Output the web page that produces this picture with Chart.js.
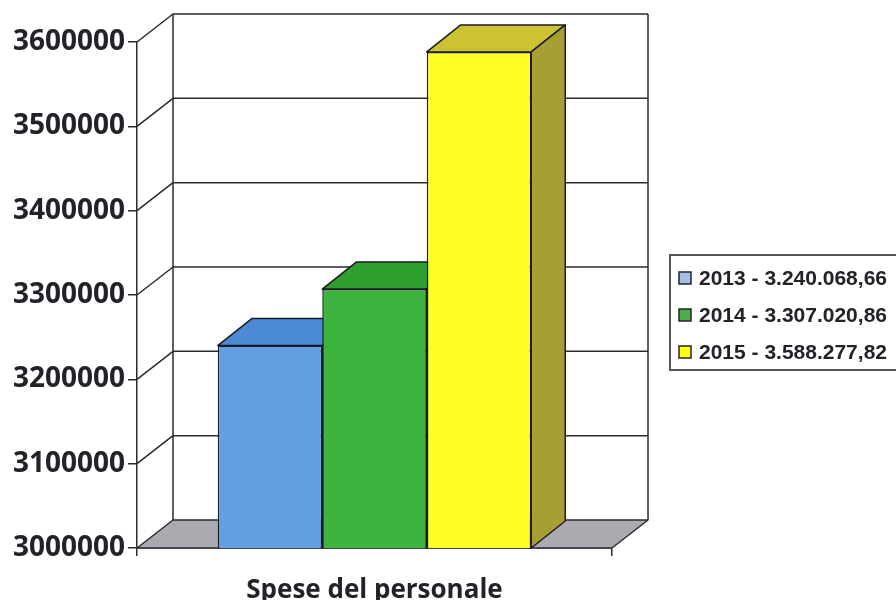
<!DOCTYPE html>
<html>
<head>
<meta charset="utf-8">
<script src="https://cdn.jsdelivr.net/npm/chart.js@4.4.1/dist/chart.umd.min.js"></script>
<style>
  body { margin: 0; background: #ffffff; }
  canvas { display: block; }
</style>
</head>
<body>
<canvas id="spese" width="896" height="600"></canvas>
<script>
// data
let categories = ["Spese del personale"];
let years = ["2013", "2014", "2015"];
let values = [3240068.66, 3307020.86, 3588277.82];
let yMin = 3000000;
let yMax = 3600000;
let yStep = 100000;

// colours
let frontColors = ["#62a0e2", "#3db43d", "#ffff26"];
let topColors = ["#4c8bd4", "#2f9f2f", "#cdc232"];
let sideColors = ["#3a70b0", "#2a862a", "#a89f34"];
let markerColors = ["#a3c0e2", "#4aac4a", "#ffff10"];

let lineColor = "#2b2b30";
let textColor = "#222228";
let wallDepth = { x: 36, y: -28 };
let barDepth = { x: 34, y: -27 };

// 3.240.068,66 style
function itNumber(v) {
    let parts = v.toFixed(2).split(".");
    let intPart = parts[0].replace(/\B(?=(\d{3})+(?!\d))/g, ".");
    return intPart + "," + parts[1];
}

let legendLabels = years.map((y, i) => y + " - " + itNumber(values[i]));

function poly(ctx, pts, fill) {
    ctx.beginPath();
    ctx.moveTo(pts[0][0], pts[0][1]);
    for (let i = 1; i < pts.length; i++) ctx.lineTo(pts[i][0], pts[i][1]);
    ctx.closePath();
    if (fill) {
        ctx.fillStyle = fill;
        ctx.fill();
    }
    ctx.stroke();
}

// back wall, floor, 3d grid lines, bar tops and sides
let threeD = {
    id: "threeD",
    beforeDatasetsDraw(chart) {
        let ctx = chart.ctx;
        let a = chart.chartArea;
        let yScale = chart.scales.y;
        let dx = wallDepth.x, dy = wallDepth.y;
        ctx.save();
        ctx.strokeStyle = lineColor;
        ctx.lineWidth = 1.5;
        ctx.lineJoin = "round";

        // floor
        poly(ctx, [[a.left, a.bottom], [a.right, a.bottom], [a.right + dx, a.bottom + dy], [a.left + dx, a.bottom + dy]], "#abaab0");

        // back wall edges
        ctx.beginPath();
        ctx.moveTo(a.left + dx, a.bottom + dy);
        ctx.lineTo(a.left + dx, a.top + dy);
        ctx.moveTo(a.right + dx, a.bottom + dy);
        ctx.lineTo(a.right + dx, a.top + dy);
        ctx.stroke();

        // grid lines
        yScale.ticks.forEach(t => {
            if (t.value === yMin) return;
            let y = yScale.getPixelForValue(t.value);
            ctx.beginPath();
            ctx.moveTo(a.left, y);
            ctx.lineTo(a.left + dx, y + dy);
            ctx.lineTo(a.right + dx, y + dy);
            ctx.stroke();
        });

        // bar tops and sides
        chart.data.datasets.forEach((ds, i) => {
            let bar = chart.getDatasetMeta(i).data[0];
            let p = bar.getProps(["x", "y", "base", "width"], true);
            let l = p.x - p.width / 2, r = p.x + p.width / 2;
            let base = Math.min(p.base, a.bottom);
            let bx = barDepth.x, by = barDepth.y;
            ctx.strokeStyle = "#1c1c24";
            poly(ctx, [[l, p.y], [r, p.y], [r + bx, p.y + by], [l + bx, p.y + by]], topColors[i]);
            poly(ctx, [[r, p.y], [r + bx, p.y + by], [r + bx, base + by], [r, base]], sideColors[i]);
        });
        ctx.restore();
    },
    afterDraw(chart) {
        // legend box
        let ctx = chart.ctx;
        ctx.save();
        ctx.strokeStyle = "#55555a";
        ctx.lineWidth = 2;
        ctx.strokeRect(670, 255, 260, 115);
        ctx.font = "bold 21px 'Liberation Sans', Arial, sans-serif";
        ctx.textBaseline = "middle";
        legendLabels.forEach((txt, i) => {
            let y = 278 + i * 37;
            ctx.fillStyle = markerColors[i];
            ctx.fillRect(679, y - 6, 12, 12);
            ctx.strokeStyle = "#23232e";
            ctx.lineWidth = 1.5;
            ctx.strokeRect(679, y - 6, 12, 12);
            ctx.fillStyle = textColor;
            ctx.fillText(txt, 699, y + 1);
        });
        ctx.restore();
    }
};

new Chart("spese", {
    type: "bar",
    data: {
        labels: categories,
        datasets: years.map((y, i) => ({
            label: legendLabels[i],
            data: [values[i]],
            backgroundColor: frontColors[i],
            borderColor: "#1c1c24",
            borderWidth: 1.5,
            borderSkipped: false
        }))
    },
    options: {
        responsive: false,
        animation: false,
        layout: { padding: { top: 42, right: 284, left: 0, bottom: 0 } },
        datasets: { bar: { categoryPercentage: 0.66, barPercentage: 1 } },
        plugins: {
            legend: { display: false },
            tooltip: { enabled: false }
        },
        scales: {
            x: {
                offset: true,
                grid: { offset: true, drawOnChartArea: false, drawTicks: true, tickLength: 8, color: lineColor, lineWidth: 1.5 },
                border: { display: true, color: lineColor, width: 1.5 },
                ticks: {
                    color: textColor,
                    padding: 19,
                    font: { family: "'Open Sans'", weight: "bold", size: 26 }
                },
                afterFit: s => { s.height = 52; }
            },
            y: {
                min: yMin,
                max: yMax,
                grid: { drawOnChartArea: false, drawTicks: true, tickLength: 9, color: lineColor, lineWidth: 1.5 },
                border: { display: true, color: lineColor, width: 1.5 },
                ticks: {
                    stepSize: yStep,
                    padding: 3,
                    color: textColor,
                    font: { family: "'Open Sans'", weight: "bold", size: 28 },
                    callback: v => String(v)
                },
                afterFit: s => { s.width = 137; }
            }
        }
    },
    plugins: [threeD]
});
</script>
</body>
</html>
